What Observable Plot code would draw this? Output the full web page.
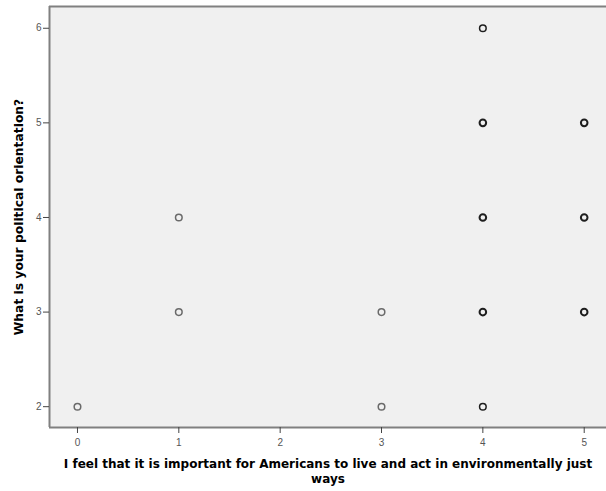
<!DOCTYPE html>
<html>
<head>
<meta charset="utf-8">
<script src="https://cdn.jsdelivr.net/npm/d3@7"></script>
<script src="https://cdn.jsdelivr.net/npm/@observablehq/plot@0.6"></script>
<style>
  html, body { margin: 0; padding: 0; background: #ffffff; }
  #chart svg { display: block; }
</style>
</head>
<body>
<div id="chart"></div>
<script>
// Data
const xValues = [0, 1, 1, 3, 3, 4, 4, 4, 4, 4, 5, 5, 5];
const yValues = [2, 3, 4, 2, 3, 2, 3, 4, 5, 6, 3, 4, 5];
const counts  = [1, 1, 1, 1, 1, 2, 4, 5, 4, 2, 3, 4, 5]; // estimated overplotting
const xTicks = [0, 1, 2, 3, 4, 5];
const yTicks = [2, 3, 4, 5, 6];
const xTitle = "I feel that it is important for Americans to live and act in environmentally just\nways";
const yTitle = "What is your political orientation?";

const points = xValues.map((x, i) => ({x, y: yValues[i], n: counts[i]}));

const xDomain = [-0.276, 5.22];
const yDomain = [1.78, 6.23];

const font = "'Liberation Sans', Arial, sans-serif";
const titleFont = "'DejaVu Sans', Verdana, sans-serif";

const chart = Plot.plot({
  width: 606,
  height: 491,
  marginLeft: 49,
  marginRight: 0,
  marginTop: 6,
  marginBottom: 64,
  style: {fontFamily: font, background: "#ffffff"},
  x: {domain: xDomain, ticks: xTicks, label: null},
  y: {domain: yDomain, ticks: yTicks, label: null},
  marks: [
    Plot.frame({fill: "#f0f0f0", stroke: "none"}),
    Plot.ruleX([xDomain[0]], {stroke: "#808080", strokeWidth: 2}),
    Plot.ruleY([yDomain[0]], {stroke: "#808080", strokeWidth: 2}),
    Plot.ruleY([yDomain[1]], {stroke: "#808080", strokeWidth: 2}),
    Plot.axisX({ticks: xTicks, tickFormat: "d", tickSize: 6, tickPadding: 5, stroke: "#444", fill: "#555", fontSize: 10, label: null, strokeWidth: 1}),
    Plot.axisY({ticks: yTicks, tickFormat: "d", tickSize: 6, tickPadding: 2, stroke: "#444", fill: "#555", fontSize: 10, label: null, strokeWidth: 1}),
    Plot.dot(points, {
      x: "x", y: "y", r: 3.3,
      stroke: d => d.n > 1 ? "#1e1e1e" : "#6a6a6a",
      strokeWidth: d => d.n > 2 ? 2 : 1.5,
      fill: "none"
    }),
    Plot.text([xTitle], {
      text: d => d, frameAnchor: "bottom", lineAnchor: "top", dy: 29,
      fontSize: 12, fontWeight: "bold", fill: "#000", lineHeight: 1.3,
      fontFamily: titleFont
    }),
    Plot.text([yTitle], {
      text: d => d, frameAnchor: "left", textAnchor: "middle", rotate: -90, dx: -30,
      fontSize: 12.3, fontWeight: "bold", fill: "#000", fontFamily: titleFont
    })
  ]
});
document.getElementById("chart").appendChild(chart);
</script>
</body>
</html>
